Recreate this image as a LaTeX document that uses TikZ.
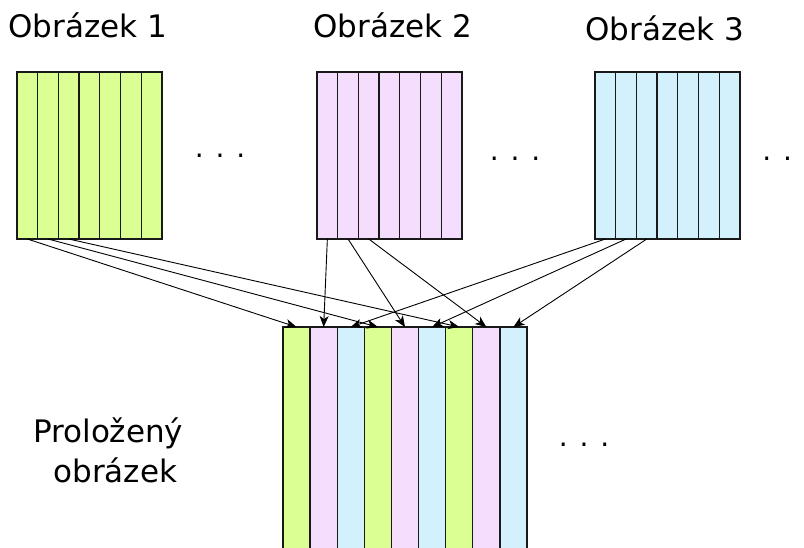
\documentclass[tikz,border=0pt]{standalone}
\usepackage{fontspec}
\setmainfont{DejaVu Sans}
\usetikzlibrary{arrows.meta}
\definecolor{stripgreen}{HTML}{DCFF94}
\definecolor{strippink}{HTML}{F5DDFD}
\definecolor{stripcyan}{HTML}{D3F1FD}
\tikzset{
  strip/.style={draw=black!90, line width=1.3pt, inner sep=0pt, outer sep=0pt,
    anchor=north west, minimum width=20.71pt, minimum height=167pt},
  wide strip/.style={strip, minimum width=27.11pt, minimum height=240pt},
  link/.style={-{Stealth[length=11pt,width=9pt,inset=3pt]}, line width=0.9pt},
  caption/.style={font=\fontsize{31}{40}\selectfont, inner sep=0pt, anchor=base west},
  dots/.style={font=\fontsize{28}{34}\selectfont, inner sep=0pt, anchor=base},
}

\begin{document}
\begin{tikzpicture}[x=1pt,y=-1pt]
	\useasboundingbox (0,0) rectangle (804,547);
	\clip (0,0) rectangle (804,547);
	
	%%%%% SOURCE IMAGES %%%%%
	\foreach \i in {1,...,7}{
		\node[strip, fill=stripgreen] (a\i) at ({17+(\i-1)*20.71},72) {};
		\node[strip, fill=strippink] (b\i) at ({317+(\i-1)*20.71},72) {};
		\node[strip, fill=stripcyan] (c\i) at ({595+(\i-1)*20.71},72) {};
	}
	\node[caption] (t1) at (8.3,37) {Obrázek 1};
	\node[caption] (t2) at (313.3,37) {Obrázek 2};
	\node[caption] (t3) at (585.3,40) {Obrázek 3};
	\node[dots] (d1) at (220,157.5) {. . .};
	\node[dots] (d2) at (515,160.5) {. . .};
	\node[dots] (d3) at (787.5,160.5) {. . .};
	
	%%%%% INTERLEAVED IMAGE %%%%%
	\foreach \i/\col in {1/stripgreen,2/strippink,3/stripcyan,4/stripgreen,5/strippink,
		6/stripcyan,7/stripgreen,8/strippink,9/stripcyan}{
		\node[wide strip, fill=\col] (m\i) at ({283+(\i-1)*27.11},327) {};
	}
	\node[caption] (p1) at (33,442) {Proložený};
	\node[caption] (p2) at (53.3,482) {obrázek};
	\node[dots] (d4) at (584,446.5) {. . .};
	
	%%%%% ARROWS %%%%%
	\foreach \k/\t in {1/1,2/4,3/7}{
		\draw[link] (a\k.south) -- (m\t.north);
	}
	\foreach \k/\t in {1/2,2/5,3/8}{
		\draw[link] (b\k.south) -- (m\t.north);
	}
	\foreach \k/\t in {1/3,2/6,3/9}{
		\draw[link] (c\k.south) -- (m\t.north);
	}
\end{tikzpicture}
\end{document}
